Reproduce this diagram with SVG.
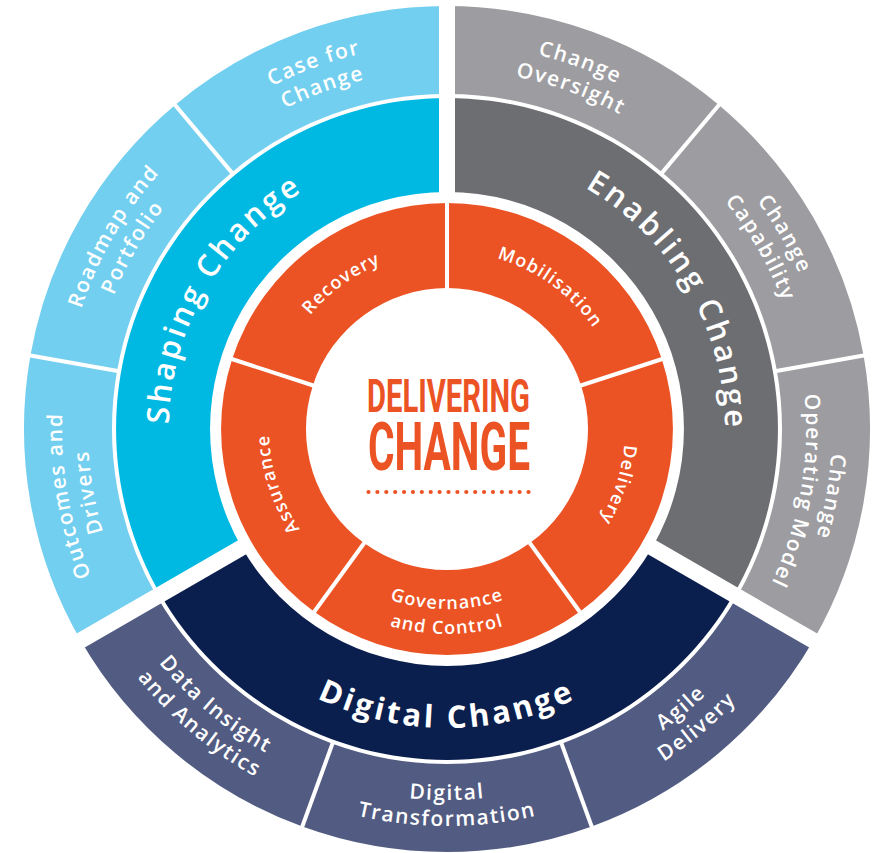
<svg xmlns="http://www.w3.org/2000/svg" width="877" height="853" viewBox="0 0 877 853">
<style>
.t{fill:#fff;font-family:"Open Sans","Noto Sans",sans-serif;text-anchor:middle}
.mid{font-size:31px;font-weight:600;letter-spacing:3px}
.midb{font-size:31px;font-weight:700;letter-spacing:3.2px}
.out{font-size:21px;font-weight:600;letter-spacing:1.6px}
.org{font-size:18px;font-weight:600;letter-spacing:1.2px}
.sep{stroke:#fff;stroke-width:4;fill:none}
.gap{stroke:#fff;stroke-width:16;fill:none}
.c-lb{fill:#73CFEF}.c-cy{fill:#00B9E3}.c-lg{fill:#9D9DA1}.c-dg{fill:#6D6E72}.c-sl{fill:#525C82}.c-nv{fill:#0B1F4E}.c-or{fill:#EC5324}
.ctr{fill:#EC5324;font-family:Roboto,"Liberation Sans",sans-serif;font-weight:700}
</style>
<defs>
<path id="p-shaping" d="M 206.2 568 A 278 278 0 0 1 447 151"/>
<path id="p-enabling" d="M 447 151 A 278 278 0 0 1 687.8 568"/>
<path id="p-digital" d="M 188.1 578.5 A 299 299 0 0 0 705.9 578.5"/>
<path id="p-case1" d="M 67.8 362.1 A 385 385 0 0 1 694.5 134.1"/>
<path id="p-case2" d="M 93.5 366.7 A 359 359 0 0 1 677.8 154"/>
<path id="p-road1" d="M 113.6 621.5 A 385 385 0 0 1 447 44"/>
<path id="p-road2" d="M 136.1 608.5 A 359 359 0 0 1 447 70"/>
<path id="p-outc1" d="M 315.3 790.8 A 385 385 0 0 1 199.5 134.1"/>
<path id="p-outc2" d="M 324.2 766.4 A 359 359 0 0 1 216.2 154"/>
<path id="p-over1" d="M 199.5 134.1 A 385 385 0 0 1 826.2 362.1"/>
<path id="p-over2" d="M 216.2 154 A 359 359 0 0 1 800.5 366.7"/>
<path id="p-capa1" d="M 447 44 A 385 385 0 0 1 780.4 621.5"/>
<path id="p-capa2" d="M 447 70 A 359 359 0 0 1 757.9 608.5"/>
<path id="p-opm1" d="M 694.5 134.1 A 385 385 0 0 1 578.7 790.8"/>
<path id="p-opm2" d="M 677.8 154 A 359 359 0 0 1 569.8 766.4"/>
<path id="p-data1" d="M 81.6 364.6 A 371 371 0 0 0 573.9 777.6"/>
<path id="p-data2" d="M 56 360.1 A 397 397 0 0 0 582.8 802.1"/>
<path id="p-dt1" d="M 125.7 614.5 A 371 371 0 0 0 768.3 614.5"/>
<path id="p-dt2" d="M 103.2 627.5 A 397 397 0 0 0 790.8 627.5"/>
<path id="p-ag1" d="M 320.1 777.6 A 371 371 0 0 0 812.4 364.6"/>
<path id="p-ag2" d="M 311.2 802.1 A 397 397 0 0 0 838 360.1"/>
<path id="p-rec" d="M 270 447.6 A 178 178 0 0 1 519.4 266.4"/>
<path id="p-mob" d="M 374.6 266.4 A 178 178 0 0 1 624 447.6"/>
<path id="p-del" d="M 579.3 309.9 A 178 178 0 0 1 484 603.1"/>
<path id="p-ass" d="M 410 603.1 A 178 178 0 0 1 314.7 309.9"/>
<path id="p-gov1" d="M 291.1 519 A 180 180 0 0 0 602.9 519"/>
<path id="p-gov2" d="M 269.5 531.5 A 205 205 0 0 0 624.5 531.5"/>
</defs>

<!-- outer ring -->
<g id="case-for-change"><path class="c-lb" d="M 175.1 105 A 423 423 0 0 1 447 6 L 447 94 A 335 335 0 0 0 231.7 172.4 Z"/>
<text class="t out"><textPath href="#p-case1" startOffset="50%">Case for</textPath></text>
<text class="t out"><textPath href="#p-case2" startOffset="50%">Change</textPath></text></g>
<g id="roadmap-portfolio"><path class="c-lb" d="M 30.4 355.6 A 423 423 0 0 1 175.1 105 L 231.7 172.4 A 335 335 0 0 0 117.1 370.8 Z"/>
<text class="t out"><textPath href="#p-road1" startOffset="50%">Roadmap and</textPath></text>
<text class="t out"><textPath href="#p-road2" startOffset="50%">Portfolio</textPath></text></g>
<g id="outcomes-drivers"><path class="c-lb" d="M 80.7 640.5 A 423 423 0 0 1 30.4 355.6 L 117.1 370.8 A 335 335 0 0 0 156.9 596.5 Z"/>
<text class="t out"><textPath href="#p-outc1" startOffset="50%">Outcomes and</textPath></text>
<text class="t out"><textPath href="#p-outc2" startOffset="50%">Drivers</textPath></text></g>
<g id="change-oversight"><path class="c-lg" d="M 447 6 A 423 423 0 0 1 718.9 105 L 662.3 172.4 A 335 335 0 0 0 447 94 Z"/>
<text class="t out"><textPath href="#p-over1" startOffset="50%">Change</textPath></text>
<text class="t out"><textPath href="#p-over2" startOffset="50%">Oversight</textPath></text></g>
<g id="change-capability"><path class="c-lg" d="M 718.9 105 A 423 423 0 0 1 863.6 355.6 L 776.9 370.8 A 335 335 0 0 0 662.3 172.4 Z"/>
<text class="t out"><textPath href="#p-capa1" startOffset="50%">Change</textPath></text>
<text class="t out"><textPath href="#p-capa2" startOffset="50%">Capability</textPath></text></g>
<g id="change-operating-model"><path class="c-lg" d="M 863.6 355.6 A 423 423 0 0 1 813.3 640.5 L 737.1 596.5 A 335 335 0 0 0 776.9 370.8 Z"/>
<text class="t out"><textPath href="#p-opm1" startOffset="50%">Change</textPath></text>
<text class="t out"><textPath href="#p-opm2" startOffset="50%">Operating Model</textPath></text></g>
<g id="agile-delivery"><path class="c-sl" d="M 813.3 640.5 A 423 423 0 0 1 591.7 826.5 L 561.6 743.8 A 335 335 0 0 0 737.1 596.5 Z"/>
<text class="t out"><textPath href="#p-ag1" startOffset="50%">Agile</textPath></text>
<text class="t out"><textPath href="#p-ag2" startOffset="50%">Delivery</textPath></text></g>
<g id="digital-transformation"><path class="c-sl" d="M 591.7 826.5 A 423 423 0 0 1 302.3 826.5 L 332.4 743.8 A 335 335 0 0 0 561.6 743.8 Z"/>
<text class="t out"><textPath href="#p-dt1" startOffset="50%">Digital</textPath></text>
<text class="t out"><textPath href="#p-dt2" startOffset="50%">Transformation</textPath></text></g>
<g id="data-insight-analytics"><path class="c-sl" d="M 302.3 826.5 A 423 423 0 0 1 80.7 640.5 L 156.9 596.5 A 335 335 0 0 0 332.4 743.8 Z"/>
<text class="t out"><textPath href="#p-data1" startOffset="50%">Data Insight</textPath></text>
<text class="t out"><textPath href="#p-data2" startOffset="50%">and Analytics</textPath></text></g>

<!-- middle ring -->
<g id="shaping-change"><path class="c-cy" d="M 160.4 594.5 A 331 331 0 0 1 447 98 L 447 192 A 237 237 0 0 0 241.8 547.5 Z"/>
<text class="t mid"><textPath href="#p-shaping" startOffset="50%">Shaping Change</textPath></text></g>
<g id="enabling-change"><path class="c-dg" d="M 447 98 A 331 331 0 0 1 733.6 594.5 L 652.2 547.5 A 237 237 0 0 0 447 192 Z"/>
<text class="t mid"><textPath href="#p-enabling" startOffset="50%">Enabling Change</textPath></text></g>
<g id="digital-change"><path class="c-nv" d="M 733.6 594.5 A 331 331 0 0 1 160.4 594.5 L 241.8 547.5 A 237 237 0 0 0 652.2 547.5 Z"/>
<text class="t midb"><textPath href="#p-digital" startOffset="50%">Digital Change</textPath></text></g>

<!-- orange ring -->
<g id="mobilisation"><path class="c-or" d="M 447 203 A 226 226 0 0 1 661.9 359.2 L 581.1 385.4 A 141 141 0 0 0 447 288 Z"/>
<text class="t org"><textPath href="#p-mob" startOffset="50%">Mobilisation</textPath></text></g>
<g id="delivery"><path class="c-or" d="M 661.9 359.2 A 226 226 0 0 1 579.8 611.8 L 529.9 543.1 A 141 141 0 0 0 581.1 385.4 Z"/>
<text class="t org"><textPath href="#p-del" startOffset="50%">Delivery</textPath></text></g>
<g id="governance-control"><path class="c-or" d="M 579.8 611.8 A 226 226 0 0 1 314.2 611.8 L 364.1 543.1 A 141 141 0 0 0 529.9 543.1 Z"/>
<text class="t org"><textPath href="#p-gov1" startOffset="50%">Governance</textPath></text>
<text class="t org"><textPath href="#p-gov2" startOffset="50%">and Control</textPath></text></g>
<g id="assurance"><path class="c-or" d="M 314.2 611.8 A 226 226 0 0 1 232.1 359.2 L 312.9 385.4 A 141 141 0 0 0 364.1 543.1 Z"/>
<text class="t org"><textPath href="#p-ass" startOffset="50%">Assurance</textPath></text></g>
<g id="recovery"><path class="c-or" d="M 232.1 359.2 A 226 226 0 0 1 447 203 L 447 288 A 141 141 0 0 0 312.9 385.4 Z"/>
<text class="t org"><textPath href="#p-rec" startOffset="50%">Recovery</textPath></text></g>

<!-- separators -->
<g id="separators">
<line class="gap" x1="447" y1="197" x2="447" y2="0"/>
<line class="gap" x1="246.1" y1="545" x2="66" y2="649"/>
<line class="gap" x1="647.9" y1="545" x2="828" y2="649"/>
<line class="sep" x1="232.9" y1="173.9" x2="173.2" y2="102.7"/>
<line class="sep" x1="119.1" y1="371.2" x2="27.5" y2="355"/>
<line class="sep" x1="661.1" y1="173.9" x2="720.8" y2="102.7"/>
<line class="sep" x1="774.9" y1="371.2" x2="866.5" y2="355"/>
<line class="sep" x1="333.1" y1="741.9" x2="301.3" y2="829.3"/>
<line class="sep" x1="560.9" y1="741.9" x2="592.7" y2="829.3"/>
<line class="sep" x1="447" y1="290" x2="447" y2="201"/>
<line class="sep" x1="579.2" y1="386" x2="663.8" y2="358.5"/>
<line class="sep" x1="528.7" y1="541.5" x2="581" y2="613.5"/>
<line class="sep" x1="365.3" y1="541.5" x2="313" y2="613.5"/>
<line class="sep" x1="314.8" y1="386" x2="230.2" y2="358.5"/>
</g>

<!-- center -->
<g id="delivering-change">
<text class="ctr" x="367" y="412" font-size="46.5" textLength="163" lengthAdjust="spacingAndGlyphs">DELIVERING</text>
<text class="ctr" x="368" y="470" font-size="67.5" textLength="162" lengthAdjust="spacingAndGlyphs">CHANGE</text>
<line x1="368.5" y1="492" x2="529" y2="492" stroke="#EC5324" stroke-width="4.2" stroke-linecap="round" stroke-dasharray="0 8.89"/>
</g>
</svg>
